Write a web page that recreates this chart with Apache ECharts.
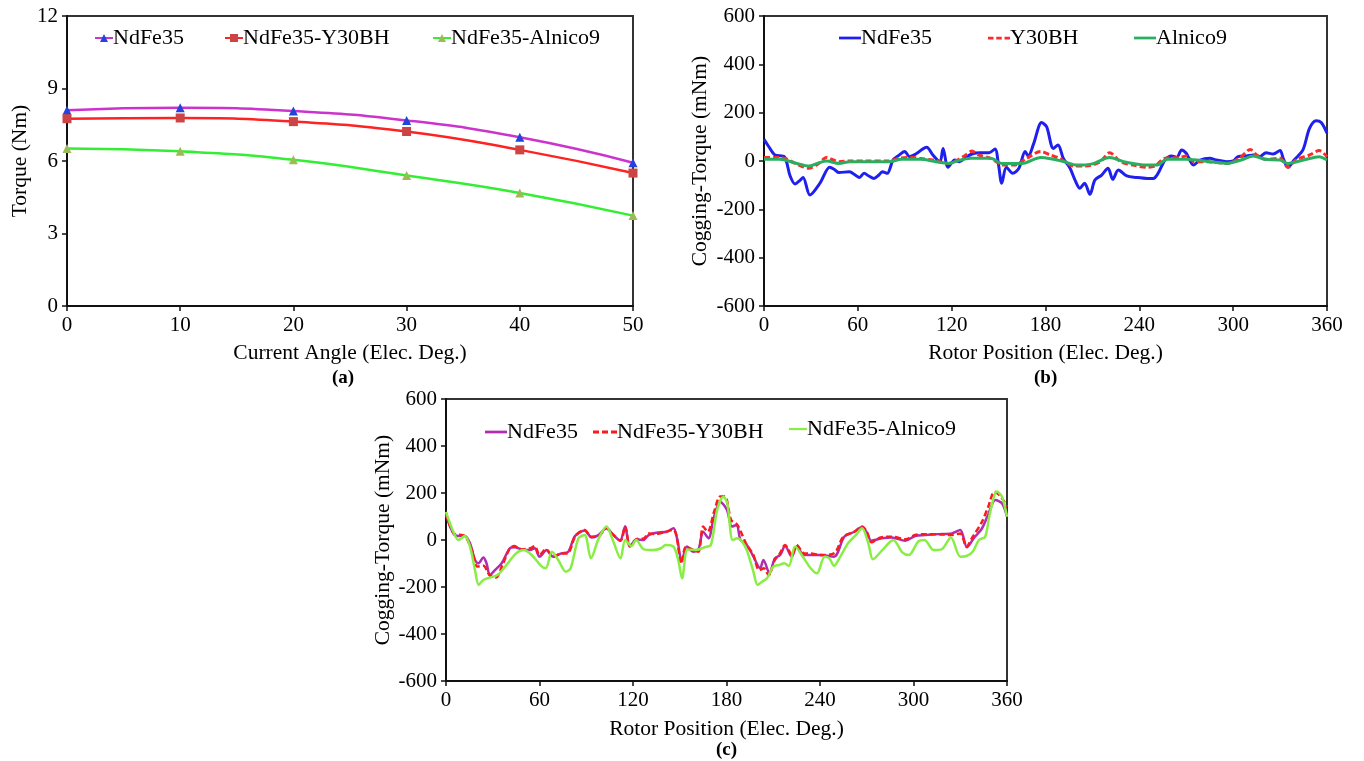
<!DOCTYPE html>
<html>
<head>
<meta charset="utf-8">
<title>Torque and cogging torque</title>
<script src="https://cdn.jsdelivr.net/npm/echarts@6/dist/echarts.min.js"></script>
<style>
  html, body { margin: 0; padding: 0; background: #fff; }
  #wrap { position: relative; width: 1364px; height: 761px; }
  .panel { position: absolute; }
</style>
</head>
<body>
<div id="wrap">
  <div id="chartA" class="panel" style="left:0;top:0;width:682px;height:390px"></div>
  <div id="chartB" class="panel" style="left:682px;top:0;width:682px;height:390px"></div>
  <div id="chartC" class="panel" style="left:340px;top:390px;width:700px;height:371px"></div>
</div>
<script>
  // (a) torque vs current angle
  var angleA = [0, 10, 20, 30, 40, 50];
  var torqueNdFe35 = [8.1, 8.2, 8.07, 7.68, 6.98, 5.93];
  var torqueY30BH = [7.75, 7.78, 7.63, 7.22, 6.46, 5.5];
  var torqueAlnico9 = [6.52, 6.4, 6.05, 5.4, 4.68, 3.74];

  // (b) cogging torque, [rotor deg, mNm]
  var cogB_NdFe35 = [
    [0, 90], [3, 60], [7, 25], [13, 18], [16.6, -60], [19.8, -95], [23, -80], [25, -68],
    [29.4, -141], [35.8, -92], [42, -26], [45, -35], [48, -48], [54.6, -44], [61, -68],
    [64, -51], [67, -62], [70.3, -72], [73.5, -58], [75.6, -44], [78.8, -51], [82.5, 4],
    [85.7, 21], [90, 39], [93, 18], [97, 29], [104, 57], [108, 25], [112.5, -3], [114.5, 52],
    [117.7, -26], [122, 4], [125, -3], [129, 15], [133, 29], [138, 34], [144, 34], [147.7, 50],
    [150, -17], [152, -92], [155, -26], [159, -51], [163, -30], [167, 39], [169, 21],
    [172.5, 73], [177.5, 159], [180.7, 142], [185, 52], [188, 66], [191.4, 11], [195.7, -30],
    [198.9, -79], [202, -113], [205, -92], [208.4, -138], [211.6, -79], [215.9, -58],
    [220, -30], [223, -76], [226.6, -37], [232, -62], [238, -68], [245, -72], [249, -72],
    [252, -51], [256.4, 4], [260.6, 21], [264, 15], [267, 46], [270, 32], [274.6, -17],
    [278.9, 4], [285, 11], [289.5, 4], [295.8, -3], [300, 0], [303, 18], [308.8, 21],
    [313, 25], [317, 18], [321, 34], [325.6, 29], [330, 43], [332, 11], [335, -26], [339, 4],
    [344.6, 46], [348.8, 135], [353, 167], [356.3, 159], [360, 115]
  ];
  var cogB_Y30BH = [
    [0, 15], [7, 15], [13, 12], [20, -10], [29, -30], [35, -10], [40, 15], [44, 5], [48, -3],
    [55, 0], [65, 0], [80, 0], [86, 11], [95, 15], [100, 10], [108, 4], [118, -10], [124, 5],
    [129, 25], [133, 41], [137, 25], [145, 11], [153, -17], [160, -17], [168, 11], [177, 39],
    [183, 25], [189, 11], [198, -21], [206, -21], [215, -3], [221, 34], [228, -3], [236, -17],
    [245, -26], [250, -21], [256, 11], [266, 15], [270, 21], [275, -3], [283, -3], [296, -10],
    [304, 11], [311, 48], [315, 25], [321, 7], [330, 11], [335, -26], [340, 4], [349, 25],
    [355, 43], [360, 18]
  ];
  var cogB_Alnico9 = [
    [0, 7], [10, 7], [20, -8], [29, -21], [35, -8], [40, 0], [48, -10], [55, -3], [80, -3],
    [88, 7], [100, 7], [110, -3], [118, -10], [125, 3], [132, 11], [145, 11], [152, -10],
    [165, -10], [177, 15], [185, 7], [192, -3], [200, -17], [210, -12], [221, 15], [230, -3],
    [245, -17], [251, -17], [258, 7], [270, 7], [285, -3], [296, -10], [305, 4], [313, 21],
    [320, 7], [330, 4], [335, -10], [345, 4], [355, 18], [360, 4]
  ];

  // (c) cogging torque, [rotor deg, mNm]
  var cogC_NdFe35 = [
    [0, 106], [4.7, 28], [7.9, 17], [12, 17], [15.4, -14], [18.6, -85], [20.8, -99], [24, -74],
    [26, -99], [28.2, -149], [31.4, -128], [35.7, -99], [41, -35], [44, -31], [48.6, -40],
    [54, -43], [57, -35], [60, -71], [64.6, -43], [68.8, -71], [74, -57], [78.5, -50],
    [82.8, 17], [89, 40], [93.5, 11], [97.8, 21], [103, 50], [107.4, 21], [111.7, -3],
    [114.9, 57], [118, -26], [122.4, 3], [126.6, 0], [130, 21], [135, 31], [141.6, 35],
    [146, 50], [148.5, 0], [151.3, -92], [154.5, -28], [158.8, -50], [162, -40], [165, 35],
    [168.5, 7], [171.7, 92], [176, 163], [180.3, 128], [183.5, 57], [186.5, 64], [189, 0],
    [193, -21], [197.3, -71], [201.6, -120], [203.7, -85], [207.6, -142], [211, -78],
    [214.4, -64], [217.6, -26], [221.9, -71], [225, -28], [229.6, -64], [233.9, -64],
    [240, -64], [249, -71], [255.6, 14], [262, 35], [266.6, 54], [269.8, 35], [273, -3],
    [279.5, 7], [286, 11], [294.7, -3], [301, 17], [307.5, 21], [316, 25], [324.6, 28],
    [330, 43], [334.3, -31], [338.6, 7], [344, 50], [348.2, 113], [352.5, 170], [356.8, 156],
    [360, 99]
  ];
  var cogC_Y30BH = [
    [0, 113], [5, 28], [12, 17], [17, -50], [20, -113], [24, -110], [28, -150], [32, -160],
    [36, -110], [41, -35], [44, -26], [48, -40], [54, -35], [57, -26], [60, -64], [64, -40],
    [69, -71], [74, -57], [78, -57], [83, 17], [89, 43], [93, 14], [98, 17], [103, 50],
    [107, 25], [112, -3], [115, 57], [118, -28], [122, 3], [127, 7], [130, 28], [135, 25],
    [141, 35], [146, 43], [148, 14], [151, -100], [154, -28], [159, -43], [162, -50],
    [165, 57], [168, 35], [172, 120], [176, 185], [179, 185], [183, 85], [187, 64],
    [193, -21], [197, -60], [201, -128], [204, -120], [207, -150], [211, -85], [214, -60],
    [217.6, -21], [222, -64], [225, -21], [230, -57], [234, -57], [240, -64], [249, -57],
    [255, 14], [262, 35], [267, 57], [270, 35], [273, -10], [279, 11], [286, 14], [295, 3],
    [301, 21], [307, 25], [316, 25], [324, 21], [330, 28], [334, -28], [338, 14], [344, 78],
    [348, 142], [352, 205], [356, 185], [360, 142]
  ];
  var cogC_Alnico9 = [
    [0, 120], [4.7, 35], [8, 0], [12, 17], [15.4, -28], [18.6, -128], [21, -191], [24, -170],
    [28, -160], [33, -149], [38, -113], [45, -57], [50, -43], [55, -64], [61, -110],
    [64, -120], [68, -50], [72, -85], [77, -135], [80, -120], [85, 7], [89, 21], [93, -78],
    [98, 7], [103, 57], [107, 0], [112, -78], [115, 0], [119, -26], [122, 0], [127, -40],
    [133, -43], [138, -35], [141, -21], [146, -28], [149, -85], [151.5, -163], [155, -40],
    [160, -43], [166, -31], [170, -21], [174, 128], [178, 184], [180.5, 156], [184, 0],
    [187, 7], [190, -7], [193, -43], [197, -128], [200, -191], [203, -177], [206, -163],
    [210, -113], [214, -106], [217, -99], [220, -110], [224, -28], [229, -71], [234, -120],
    [238, -142], [243, -71], [246, -78], [249, -110], [253, -71], [258, -14], [263, 21],
    [267, 50], [271, -14], [274, -82], [280, -43], [287, 0], [293, -54], [297, -64],
    [303, -7], [307, 0], [313, -43], [318, -40], [324, 11], [330, -71], [334, -68],
    [338, -50], [342, 0], [346, 14], [349, 113], [353.6, 206], [356.8, 184], [360, 99]
  ];

  var FONT = 'Liberation Serif';
  // plain bar / dashed bar legend icons for the curves without markers
  var ICON_SOLID = 'path://M0,0H24V3H0Z';
  var ICON_DASHED = 'path://M0,0H6V3H0ZM9,0H15V3H9ZM18,0H24V3H18Z';

  function axis(min, max, interval, name, nameGap) {
    return {
      type: 'value',
      min: min,
      max: max,
      interval: interval,
      name: name,
      nameLocation: 'middle',
      nameGap: nameGap,
      nameMoveOverlap: false,
      nameTextStyle: { fontFamily: FONT, fontSize: 21.5, color: '#000' },
      axisLine: { show: true, onZero: false, lineStyle: { color: '#111', width: 2 } },
      axisTick: { show: true, inside: false, length: 5, lineStyle: { color: '#111', width: 1.5 } },
      axisLabel: { fontFamily: FONT, fontSize: 21, color: '#000', margin: 9 },
      splitLine: { show: false }
    };
  }

  function legendAt(name, left, top, width, icon) {
    return {
      data: [icon ? { name: name, icon: icon } : name],
      left: left,
      top: top,
      padding: 0,
      itemWidth: width,
      itemHeight: icon ? 3 : 10,
      itemGap: 0,
      textStyle: { fontFamily: FONT, fontSize: 22, color: '#000', padding: [0, 0, 0, -5] }
    };
  }

  function label(text, left, top) {
    return {
      text: text,
      left: left,
      top: top,
      textStyle: { fontFamily: FONT, fontSize: 19, fontWeight: 'bold', color: '#000' }
    };
  }

  function gridAt(left, top, width, height) {
    return {
      left: left, top: top, width: width, height: height,
      outerBoundsMode: 'none',
      show: true, borderColor: '#333', borderWidth: 2, backgroundColor: 'transparent'
    };
  }

  function pairs(xs, ys) {
    return xs.map(function(x, i) { return [x, ys[i]]; });
  }

  // (a)
  var optionA = {
    animation: false,
    title: label('(a)', 327, 364),
    grid: gridAt(67, 16, 566, 290),
    xAxis: axis(0, 50, 10, 'Current Angle (Elec. Deg.)', 36),
    yAxis: axis(0, 12, 3, 'Torque (Nm)', 36),
    legend: [
      legendAt('NdFe35', 94, 27, 18),
      legendAt('NdFe35-Y30BH', 224, 27, 18),
      legendAt('NdFe35-Alnico9', 432, 27, 18)
    ],
    series: [
      {
        name: 'NdFe35', type: 'line', smooth: true, symbol: 'triangle', symbolSize: 9,
        itemStyle: { color: '#2244dd' }, lineStyle: { color: '#cc33cc', width: 2.5 },
        data: pairs(angleA, torqueNdFe35)
      },
      {
        name: 'NdFe35-Y30BH', type: 'line', smooth: true, symbol: 'rect', symbolSize: 9,
        itemStyle: { color: '#cc4444' }, lineStyle: { color: '#ff2222', width: 2.5 },
        data: pairs(angleA, torqueY30BH)
      },
      {
        name: 'NdFe35-Alnico9', type: 'line', smooth: true, symbol: 'triangle', symbolSize: 9,
        itemStyle: { color: '#9dbb55' }, lineStyle: { color: '#33ee33', width: 2.5 },
        data: pairs(angleA, torqueAlnico9)
      }
    ]
  };

  // (b)
  var optionB = {
    animation: false,
    title: label('(b)', 347, 364),
    grid: gridAt(82, 16, 563, 290),
    xAxis: axis(0, 360, 60, 'Rotor Position (Elec. Deg.)', 36),
    yAxis: axis(-600, 600, 200, 'Cogging-Torque (mNm)', 53),
    legend: [
      legendAt('NdFe35', 157, 27, 22, ICON_SOLID),
      legendAt('Y30BH', 306, 27, 22, ICON_DASHED),
      legendAt('Alnico9', 452, 27, 22, ICON_SOLID)
    ],
    series: [
      {
        name: 'NdFe35', type: 'line', smooth: 0.3, symbol: 'none',
        itemStyle: { color: '#1f1fee' }, lineStyle: { color: '#1f1fee', width: 3 },
        data: cogB_NdFe35
      },
      {
        name: 'Y30BH', type: 'line', smooth: 0.3, symbol: 'none',
        itemStyle: { color: '#ff2a2a' }, lineStyle: { color: '#ff2a2a', width: 3, type: [6, 3] },
        data: cogB_Y30BH
      },
      {
        name: 'Alnico9', type: 'line', smooth: 0.3, symbol: 'none',
        itemStyle: { color: '#28b060' }, lineStyle: { color: '#28b060', width: 3 },
        data: cogB_Alnico9
      }
    ]
  };

  // (c)
  var optionC = {
    animation: false,
    title: label('(c)', 371, 346),
    grid: gridAt(106, 9, 561, 282),
    xAxis: axis(0, 360, 60, 'Rotor Position (Elec. Deg.)', 37),
    yAxis: axis(-600, 600, 200, 'Cogging-Torque (mNm)', 52),
    legend: [
      legendAt('NdFe35', 145, 31, 22, ICON_SOLID),
      legendAt('NdFe35-Y30BH', 253, 31, 24, ICON_DASHED),
      legendAt('NdFe35-Alnico9', 449, 28, 18, ICON_SOLID)
    ],
    series: [
      {
        name: 'NdFe35', type: 'line', smooth: 0.3, symbol: 'none',
        itemStyle: { color: '#b02cb0' }, lineStyle: { color: '#b02cb0', width: 2.5 },
        data: cogC_NdFe35
      },
      {
        name: 'NdFe35-Y30BH', type: 'line', smooth: 0.3, symbol: 'none',
        itemStyle: { color: '#ff1a1a' }, lineStyle: { color: '#ff1a1a', width: 2.5, type: [6, 3] },
        data: cogC_Y30BH
      },
      {
        name: 'NdFe35-Alnico9', type: 'line', smooth: 0.3, symbol: 'none',
        itemStyle: { color: '#88ee44' }, lineStyle: { color: '#88ee44', width: 2.5 },
        data: cogC_Alnico9
      }
    ]
  };

  echarts.init(document.getElementById('chartA')).setOption(optionA);
  echarts.init(document.getElementById('chartB')).setOption(optionB);
  echarts.init(document.getElementById('chartC')).setOption(optionC);
</script>
</body>
</html>
